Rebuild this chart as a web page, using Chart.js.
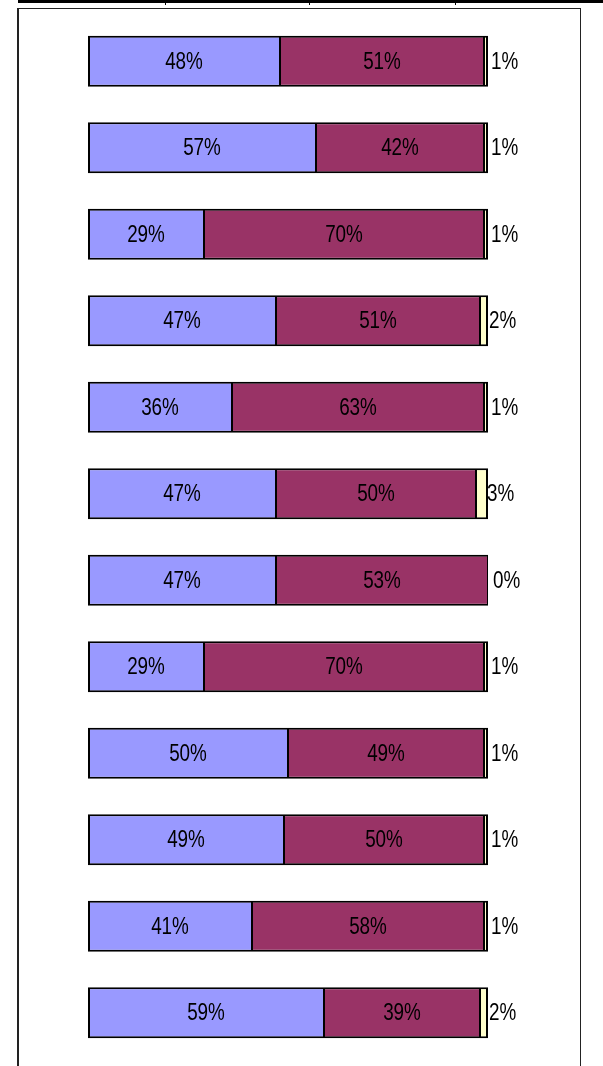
<!DOCTYPE html>
<html>
<head>
<meta charset="utf-8">
<script src="https://cdn.jsdelivr.net/npm/chart.js@4/dist/chart.umd.min.js"></script>
<style>
  html, body { margin: 0; padding: 0; background: #fff; }
  #wrap { position: relative; width: 603px; height: 1066px; overflow: hidden; }
  #topbar { position: absolute; left: 18px; top: 0; width: 585px; height: 3px; background: #000; }
  .sep { position: absolute; top: 0; width: 1px; height: 5px; background: #000; }
  #frame { position: absolute; left: 17px; top: 8px; width: 561px; height: 1070px;
           border-left: 2px solid #222; border-top: 1px solid #222; border-right: 1px solid #222; }
  canvas { position: absolute; left: 0; top: 0; }
</style>
</head>
<body>
<div id="wrap">
  <div id="topbar"></div>
  <div class="sep" style="left:165px"></div>
  <div class="sep" style="left:309px"></div>
  <div class="sep" style="left:455px"></div>
  <div id="frame"></div>
  <canvas id="stackChart" width="603" height="1066"></canvas>
</div>
<script>
document.addEventListener('DOMContentLoaded', function () {
  // one row per bar, top to bottom
  const rows = ['1', '2', '3', '4', '5', '6', '7', '8', '9', '10', '11', '12'];
  const firstShare  = [48, 57, 29, 47, 36, 47, 47, 29, 50, 49, 41, 59];
  const secondShare = [51, 42, 70, 51, 63, 50, 53, 70, 49, 50, 58, 39];
  const thirdShare  = [1, 1, 1, 2, 1, 3, 0, 1, 1, 1, 1, 2];

  const labelFont = "23px 'Liberation Sans', Arial, sans-serif";
  const squeeze = 0.82; // the original text is a narrow face

  // draws the percent text: inside for the first two, just right of the thin third piece
  const percentLabels = {
    id: 'percentLabels',
    afterDatasetsDraw(chart) {
      const ctx = chart.ctx;
      chart.data.datasets.forEach((ds, di) => {
        const meta = chart.getDatasetMeta(di);
        meta.data.forEach((bar, i) => {
          const p = bar.getProps(['x', 'y', 'base'], true);
          const mid = (p.x + p.base) / 2;
          const txt = ds.data[i] + '%';
          ctx.save();
          ctx.font = labelFont;
          ctx.fillStyle = '#000';
          ctx.textBaseline = 'middle';
          if (di < 2) {
            ctx.translate(mid, p.y + 1);
            ctx.textAlign = 'center';
          } else {
            ctx.translate(mid + 5, p.y + 1);
            ctx.textAlign = 'left';
          }
          ctx.scale(squeeze, 1);
          ctx.fillText(txt, 0, 0);
          ctx.restore();
        });
      });
    }
  };

  const ctx = document.getElementById('stackChart').getContext('2d');
  new Chart(ctx, {
    type: 'bar',
    data: {
      labels: rows,
      datasets: [
        { data: firstShare,  backgroundColor: '#9999FF',
          borderWidth: { left: 2, right: 1, top: 2, bottom: 2 } },
        { data: secondShare, backgroundColor: '#993366',
          borderWidth: { left: 1, right: 1, top: 2, bottom: 2 } },
        { data: thirdShare,  backgroundColor: '#FFFFCC',
          borderWidth: { left: 1, right: 2, top: 2, bottom: 2 } }
      ]
    },
    options: {
      indexAxis: 'y',
      responsive: false,
      animation: false,
      layout: { padding: { left: 88, right: 115, top: 18, bottom: 10 } },
      datasets: {
        bar: {
          borderColor: '#000',
          borderSkipped: false,
          categoryPercentage: 1,
          barPercentage: 0.59
        }
      },
      scales: {
        x: { stacked: true, min: 0, max: 100, display: false },
        y: { stacked: true, display: false }
      },
      plugins: {
        legend: { display: false },
        tooltip: { enabled: false }
      }
    },
    plugins: [percentLabels]
  });
});
</script>
</body>
</html>
